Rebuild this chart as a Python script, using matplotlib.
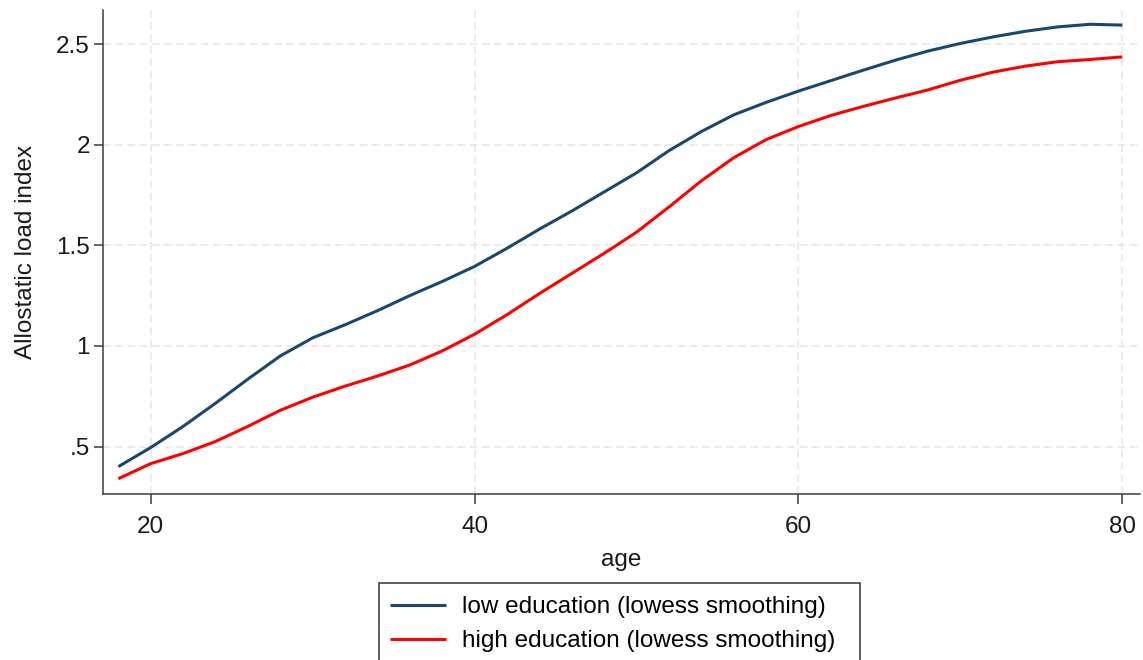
import matplotlib
matplotlib.use('Agg')
import matplotlib.pyplot as plt
from matplotlib.patches import Rectangle

plt.rcParams['font.family'] = ['Liberation Sans', 'DejaVu Sans']

# lowess curves
age = [18, 20, 22, 24, 26, 28, 30, 32, 34, 36, 38, 40, 42, 44, 46, 48, 50,
       52, 54, 56, 58, 60, 62, 64, 66, 68, 70, 72, 74, 76, 78, 80]
low_edu = [0.40, 0.495, 0.60, 0.715, 0.835, 0.95, 1.04, 1.105, 1.175, 1.25,
           1.32, 1.395, 1.485, 1.58, 1.67, 1.765, 1.86, 1.97, 2.065, 2.148,
           2.21, 2.266, 2.318, 2.37, 2.42, 2.465, 2.503, 2.535, 2.563, 2.585,
           2.598, 2.594]
high_edu = [0.34, 0.415, 0.465, 0.525, 0.60, 0.68, 0.745, 0.80, 0.85, 0.905,
            0.975, 1.058, 1.155, 1.26, 1.36, 1.46, 1.565, 1.69, 1.82, 1.935,
            2.025, 2.09, 2.145, 2.19, 2.232, 2.272, 2.32, 2.36, 2.39, 2.412,
            2.423, 2.436]

x_ticks = [20, 40, 60, 80]
y_ticks = [0.5, 1, 1.5, 2, 2.5]
y_ticklabels = ['.5', '1', '1.5', '2', '2.5']

navy = '#1a476f'
red = '#ff0000'
axis_col = '#3c3c3c'
fs = 17.5

fig = plt.figure(figsize=(11.43, 6.6), dpi=100)
ax = fig.add_axes([103 / 1143, 1 - 494 / 660, (1140 - 103) / 1143, (494 - 10) / 660])

ax.plot(age, low_edu, color=navy, lw=2.2, label='low education (lowess smoothing)',
        solid_capstyle='butt', solid_joinstyle='round', zorder=3)
ax.plot(age, high_edu, color=red, lw=2.2, label='high education (lowess smoothing)',
        solid_capstyle='butt', solid_joinstyle='round', zorder=3)

ax.set_xlim(17.05, 81.09)
ax.set_ylim(0.264, 2.669)
ax.set_xticks(x_ticks)
ax.set_yticks(y_ticks)
ax.set_yticklabels(y_ticklabels)

ax.grid(True, color='#e6e6e6', lw=1.1, linestyle=(0, (5, 3)), zorder=0)
ax.set_axisbelow(True)

for s in ['top', 'right']:
    ax.spines[s].set_visible(False)
for s in ['left', 'bottom']:
    ax.spines[s].set_color(axis_col)
    ax.spines[s].set_linewidth(1.1)

ax.tick_params(axis='x', length=7, width=1.1, color=axis_col, labelsize=fs,
               labelcolor='#1a1a1a', pad=9)
ax.tick_params(axis='y', length=6.5, width=1.1, color=axis_col, labelsize=fs,
               labelcolor='#1a1a1a', pad=3)

ax.set_xlabel('age', fontsize=fs, color='#1a1a1a', labelpad=7.5)
ax.set_ylabel('Allostatic load index', fontsize=fs, color='#1a1a1a', labelpad=14)

# legend box, cut off by the bottom edge as in the original
fig.patches.append(Rectangle((379 / 1143, -10 / 660), (860 - 379) / 1143, (660 - 583 + 10) / 660,
                             transform=fig.transFigure, fill=False,
                             edgecolor='#333333', lw=1.1))
ax.legend(loc='upper left', bbox_to_anchor=(390 / 1143, 1 - 596 / 660),
          bbox_transform=fig.transFigure, frameon=False, fontsize=fs,
          borderpad=0, borderaxespad=0, handlelength=2.3, handletextpad=0.66,
          labelspacing=0.5)

plt.savefig('out.png', dpi=100)
